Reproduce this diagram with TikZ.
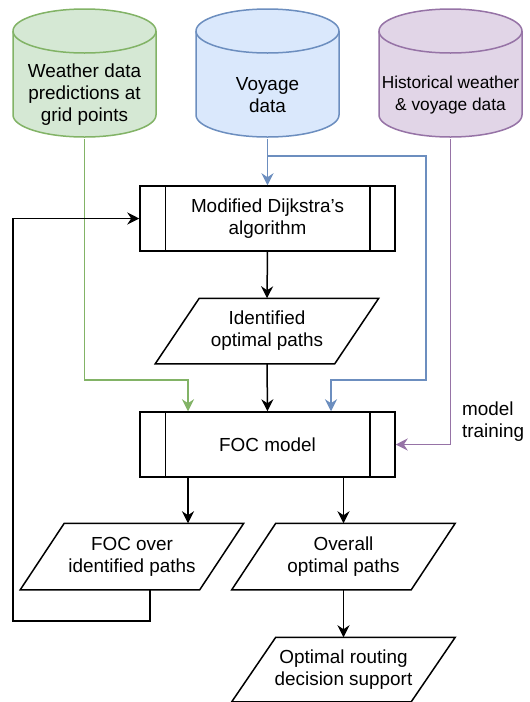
\documentclass[tikz,border=0pt]{standalone}
\usepackage{fontspec}
\setmainfont{Liberation Sans}
\usetikzlibrary{arrows.meta,calc}

\definecolor{gfill}{HTML}{D5E8D4}\definecolor{gline}{HTML}{82B366}
\definecolor{bfill}{HTML}{DAE8FC}\definecolor{bline}{HTML}{6C8EBF}
\definecolor{pfill}{HTML}{E1D5E7}\definecolor{pline}{HTML}{9673A6}

% database cylinder: left x, right x, fill, stroke (top 9, bottom 137)
\newcommand\drawcyl[4]{%
  \pgfmathsetmacro\cylrx{(#2-#1)/2}
  \filldraw[fill=#3,draw=#4] (#1,31) -- (#1,115)
    arc[start angle=180,end angle=0,x radius=\cylrx,y radius=22]
    -- (#2,31)
    arc[start angle=0,end angle=-180,x radius=\cylrx,y radius=22] -- cycle;
  \draw[#4] (#1,31) arc[start angle=180,end angle=0,x radius=\cylrx,y radius=22];
}
% slanted data box around a named node
\newcommand\ioshape[1]{%
  \draw ($(#1.south west)+(-22,0)$) -- ($(#1.south east)+(-22,0)$)
     -- ($(#1.north east)+(22,0)$) -- ($(#1.north west)+(22,0)$) -- cycle;
}
% process box with the two inner bars
\newcommand\procbars[1]{%
  \draw ($(#1.north west)+(26,0)$) -- ($(#1.south west)+(26,0)$);
  \draw ($(#1.north east)+(-26,0)$) -- ($(#1.south east)+(-26,0)$);
}

\begin{document}
\begin{tikzpicture}[x=1pt,y=-1pt,line width=1.5pt,
  every node/.style={font=\fontsize{18.9}{22}\selectfont},
  flow/.style={-{Stealth[length=12pt,width=12pt,inset=4pt]}},
  dbnode/.style={minimum width=143,minimum height=86,inner sep=0,align=center},
  procbox/.style={draw,minimum width=255,minimum height=65,inner sep=0,align=center},
  iobox/.style={minimum width=178,minimum height=64,inner sep=0,align=center}]
\useasboundingbox[fill=white] (0,0) rectangle (530,702);

% data sources
\drawcyl{13}{156}{gfill}{gline}
\drawcyl{196}{339}{bfill}{bline}
\drawcyl{379}{522}{pfill}{pline}
\node[dbnode] (weather) at (84.5,95) {Weather data\\predictions at\\grid points};
\node[dbnode] (voyage) at (267.5,95) {Voyage\\data};
\node[dbnode,font=\fontsize{17.3}{22}\selectfont] (hist) at (450.5,95) {Historical weather\\\& voyage data};

% processing chain
\node[procbox] (dijk) at (267.5,218.5) {Modified Dijkstra\char"0027 s\\algorithm};
\procbars{dijk}
\node[iobox] (ident) at (267,331) {Identified\\optimal paths};
\ioshape{ident}
\node[procbox] (foc) at (267.5,444.5) {FOC model};
\procbars{foc}
\node[iobox,minimum height=65] (focover) at (132,556.5) {FOC over\\identified paths};
\ioshape{focover}
\node[iobox,minimum height=65] (overall) at (343.5,556.5) {Overall\\optimal paths};
\ioshape{overall}
\node[iobox,minimum height=63] (routing) at (343.5,669.5) {Optimal routing\\decision support};
\ioshape{routing}
\node[anchor=west,align=left] (mt) at (458,422) {model\\training};

% voyage data links
\coordinate (vsplit) at ($(voyage.south)+(0,17)$);
\coordinate (bturn) at (426,380);
\draw[flow,bline] (voyage.south) -- (dijk.north);
\draw[flow,bline] (vsplit) -| (bturn) -| ($(foc.north)+(63.5,0)$);

% weather predictions link
\coordinate (gturn) at (188,380);
\draw[flow,gline] (weather.south) |- (gturn) -- (gturn |- foc.north);

% historical data link
\draw[flow,pline] (hist.south) |- (foc.east);

% main flow
\draw[flow] (dijk.south) -- (ident.north);
\draw[flow] (ident.south) -- (foc.north);
\coordinate (fl) at ($(foc.south)+(-79.5,0)$);
\draw[flow] (fl) -- (fl |- focover.north);
\draw[flow] (foc.south -| overall.north) -- (overall.north);
\draw[flow] (overall.south) -- (routing.north);

% feedback loop
\coordinate (lp) at ($(focover.south)+(18,0)$);
\coordinate (lcorner) at (13,621);
\draw[flow] (lp) |- (lcorner) |- (dijk.west);
\end{tikzpicture}
\end{document}
